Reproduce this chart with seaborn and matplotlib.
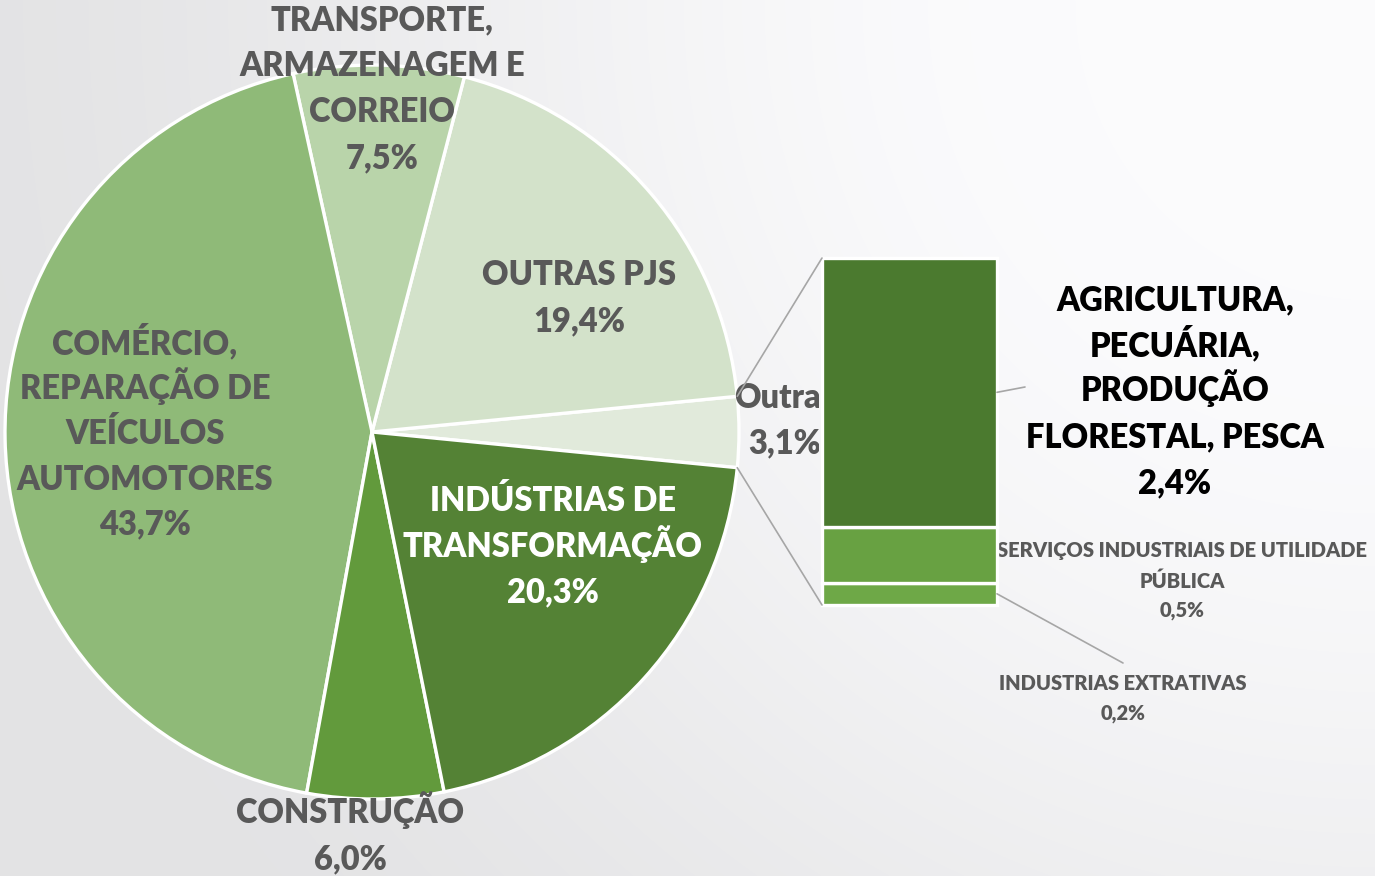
import numpy as np
import matplotlib
matplotlib.use("Agg")
import matplotlib.pyplot as plt
import seaborn as sns
from matplotlib.patches import ConnectionPatch
from matplotlib.transforms import Bbox

# ---- data -------------------------------------------------------------
sectors = [
    "Outras",
    "OUTRAS PJS",
    "TRANSPORTE,\nARMAZENAGEM E\nCORREIO",
    "COMÉRCIO,\nREPARAÇÃO DE\nVEÍCULOS\nAUTOMOTORES",
    "CONSTRUÇÃO",
    "INDÚSTRIAS DE\nTRANSFORMAÇÃO",
]
shares = [3.1, 19.4, 7.5, 43.7, 6.0, 20.3]
pie_colors = ["#e1eadb", "#d3e2ca", "#b9d4aa", "#8fba78", "#629a3c", "#548235"]

detail_sectors = [
    "INDUSTRIAS EXTRATIVAS",
    "SERVIÇOS INDUSTRIAIS DE UTILIDADE\nPÚBLICA",
    "AGRICULTURA,\nPECUÁRIA,\nPRODUÇÃO\nFLORESTAL, PESCA",
]
detail_shares = [0.2, 0.5, 2.4]
detail_colors = ["#6ea847", "#68a142", "#4b7a2f"]

# ---- style ------------------------------------------------------------
sns.set_theme(style="white")
plt.rcParams["font.family"] = ["Lato", "DejaVu Sans"]
GREY = "#595959"
WEIGHT = 800

W, H = 1375, 876
fig = plt.figure(figsize=(W / 100, H / 100), dpi=100)
ax = fig.add_axes([0, 0, 1, 1])

# soft paper-like backdrop: bright towards the upper right corner
yy, xx = np.mgrid[0:H, 0:W]
d = np.hypot(xx - W, yy)  # distance from top-right corner
t = np.clip((d - 300) / 1200, 0, 1)
t = t * t * (3 - 2 * t)
level = (251 - 24 * t) / 255.0
bg = np.clip(np.dstack([level, level, level + 0.006]), 0, 1)
ax.imshow(bg, extent=(0, W, 0, H), origin="upper", zorder=0, aspect="auto")

# ---- main pie ---------------------------------------------------------
cx, cy, r = 372, 444, 367
start = -shares[0] / 100 * 360 / 2
wedges, _ = ax.pie(
    shares, colors=pie_colors, startangle=start, counterclock=True,
    center=(cx, cy), radius=r,
    wedgeprops=dict(edgecolor="white", linewidth=2.4, zorder=2),
)
ax.set_xlim(0, W)
ax.set_ylim(0, H)
ax.axis("off")


def fmt(v):
    return f"{v:.1f}".replace(".", ",") + "%"


def block(x, y_lines, lines, size, color, cap, clip_right=None):
    # each line is placed on its own baseline (pixel rows measured from top)
    for yl, txt in zip(y_lines, lines):
        tx = ax.text(x, H - (yl + cap / 2), txt, ha="center", va="baseline",
                     fontsize=size, fontweight=WEIGHT, color=color, zorder=5)
        if clip_right is not None:
            tx.set_clip_box(Bbox([[0, 0], [clip_right, H]]))
            tx.set_clip_on(True)


BIG, BIGCAP = 23.5, 24
label_pos = {
    0: (785, [396, 441]),
    1: (579, [273, 319]),
    2: (382, [18, 64, 110, 156]),
    3: (145, [342, 387, 432, 478, 522]),
    4: (350, [811, 857]),
    5: (553, [499, 545, 590]),
}
bx0, bx1, by_top, by_bot = 822, 997, 258, 605
for i, (name, v) in enumerate(zip(sectors, shares)):
    x, ys = label_pos[i]
    col = "white" if i == 5 else GREY
    block(x, ys, name.split("\n") + [fmt(v)], BIG, col, BIGCAP,
          clip_right=bx0 - 3 if i == 0 else None)

# ---- breakdown bar of the "Outras" slice ------------------------------
bax = fig.add_axes([bx0 / W, (H - by_bot) / H, (bx1 - bx0) / W, (by_bot - by_top) / H])
bottoms = np.concatenate([[0], np.cumsum(detail_shares)[:-1]])
bax.bar([0] * len(detail_shares), detail_shares, bottom=bottoms, width=1.0,
        color=detail_colors, edgecolor="white", linewidth=2.4, clip_on=False)
bax.set_xlim(-0.5, 0.5)
bax.set_ylim(0, sum(detail_shares))
bax.axis("off")

# connector lines from the slice edges to the bar corners
for ang, yb in [(start + shares[0] * 3.6, sum(detail_shares)), (start, 0)]:
    px = cx + r * np.cos(np.radians(ang))
    py = cy + r * np.sin(np.radians(ang))
    con = ConnectionPatch(xyA=(px, py), coordsA=ax.transData,
                          xyB=(-0.5, yb), coordsB=bax.transData,
                          color="#a6a6a6", linewidth=1.2, zorder=1)
    fig.add_artist(con)

# labels for the bar segments
block(1175, [298, 344, 389, 435, 481],
      detail_sectors[2].split("\n") + [fmt(detail_shares[2])], BIG, "black", BIGCAP)
SMALL, SMALLCAP = 14.5, 15
block(1182, [550, 580, 609],
      detail_sectors[1].split("\n") + [fmt(detail_shares[1])], SMALL, GREY, SMALLCAP)
block(1123, [683, 712],
      detail_sectors[0].split("\n") + [fmt(detail_shares[0])], SMALL, GREY, SMALLCAP)

# leader lines for the bar labels
for yb, end in [(bottoms[2] + detail_shares[2] / 2, (1025, 387)),
                (bottoms[0] + detail_shares[0] / 2, (1123, 663))]:
    con = ConnectionPatch(xyA=(0.5, yb), coordsA=bax.transData,
                          xyB=(end[0], H - end[1]), coordsB=ax.transData,
                          color="#a6a6a6", linewidth=1.2, zorder=1)
    fig.add_artist(con)

fig.savefig("out.png", dpi=100)
